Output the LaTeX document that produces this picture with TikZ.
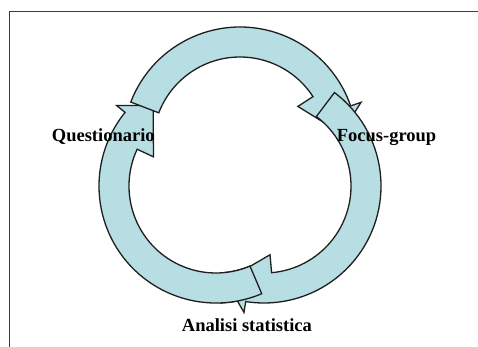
\documentclass[tikz,border=0pt]{standalone}
\usepackage{fontspec}
\setmainfont{Liberation Serif}
\usetikzlibrary{calc}
\definecolor{ringfill}{HTML}{B7DEE2}
\definecolor{ringline}{HTML}{1E1E1E}
\definecolor{framecolor}{HTML}{3C3C3C}

% one curved block arrow: centre, tail angle, head angle (runs clockwise)
\newcommand{\cyclearrow}[3]{%
  \draw[arrowshape] ($(#1)+(#2:117)$) arc[start angle=#2, end angle={#3-7}, radius=117]
    -- ($(#1)+({#3-7}:128)$) -- ($(#1)+({#3-20}:102)$)
    -- ($(#1)+({#3+7}:69)$) -- ($(#1)+({#3+7}:87)$)
    arc[start angle={#3+7}, end angle=#2, radius=87] -- cycle;}

\begin{document}
\begin{tikzpicture}[x=1pt, y=1pt,
    every node/.style={font=\fontsize{18.5}{20}\selectfont\bfseries, inner sep=0pt},
    arrowshape/.style={fill=ringfill, draw=ringline, line width=1.3pt, line join=miter},
]
\useasboundingbox (0,0) rectangle (478,346);

% ============================================================ frame
\draw[framecolor, line width=1.3pt] (9.3,-2) -- (9.3,334.3) -- (480,334.3);

% ============================================================ the three arrows
\coordinate (ctop) at (240,202);
\coordinate (cright) at (264,160);
\coordinate (cleft) at (216,160);

\cyclearrow{cleft}{293}{148}
\cyclearrow{ctop}{159}{26}
\cyclearrow{cright}{53}{-92}

% tail of the left arrow lies over the head of the right one
\begin{scope}
    \clip (220,30) rectangle (300,100);
    \cyclearrow{cleft}{293}{148}
\end{scope}

% ============================================================ labels
\node[anchor=base west] (quest) at (51.7,204.3) {Questionario};
\node[anchor=base west] (focus) at (336.7,204.3) {Focus-group};
\node[anchor=base west] (stat) at (181.7,15) {Analisi statistica};

\end{tikzpicture}
\end{document}
